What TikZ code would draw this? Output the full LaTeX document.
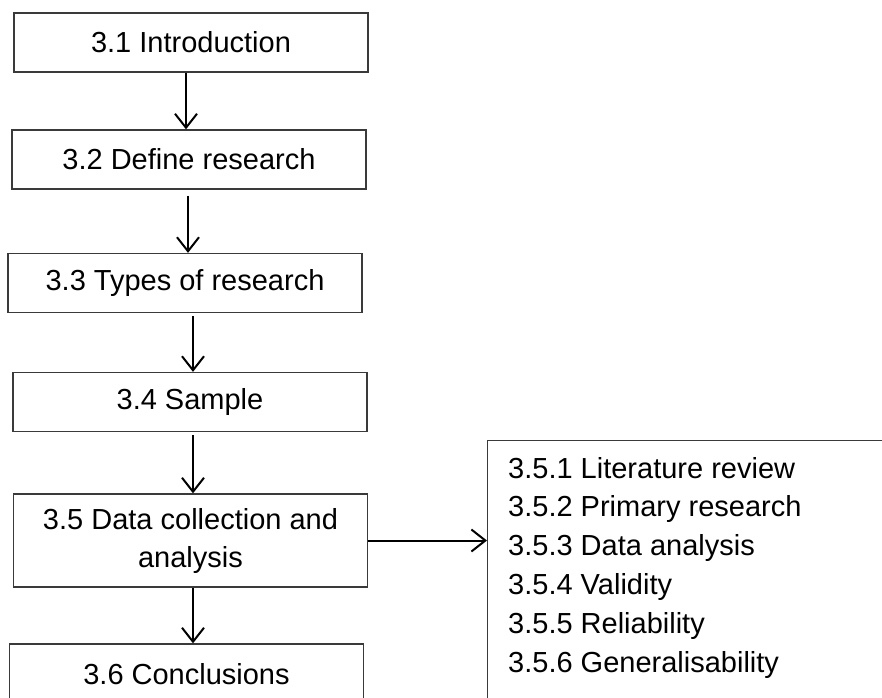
\documentclass[tikz,border=0pt]{standalone}
\usepackage{fontspec}
\setmainfont{Liberation Sans}
\usetikzlibrary{arrows.meta}
\definecolor{edge}{HTML}{3A3A3A}
\tikzset{
  stagebox/.style={draw=edge, line width=1.3pt, rectangle, minimum width=354pt,
    minimum height=59pt, inner sep=0pt, align=center,
    font=\fontsize{29}{38}\selectfont},
  listbox/.style={draw=edge, line width=1.3pt, rectangle, inner sep=0pt},
  listtext/.style={inner sep=0pt, align=left, font=\fontsize{29}{38.8}\selectfont},
  conn/.style={line width=2pt, -{Straight Barb[length=14pt,width=22pt,line width=2pt]}},
}
\begin{document}
\begin{tikzpicture}[x=1pt,y=-1pt]
\useasboundingbox (0,0) rectangle (882,697);
\clip (0,0) rectangle (882,697);
\fill[white] (0,0) rectangle (882,697);

% main chain of stages
\node[stagebox] (b1) at (191,42.5) {3.1 Introduction};
\node[stagebox] (b2) at (189,159.5) {3.2 Define research};
\node[stagebox] (b3) at (185,283) {3.3 Types of research};
\node[stagebox] (b4) at (190,402) {3.4 Sample};
\node[stagebox, minimum height=93pt] (b5) at (190.5,540.5) {3.5 Data collection and\\analysis};
\node[stagebox, minimum height=60pt] (b6) at (186.5,674) {3.6 Conclusions};

% sub-sections of 3.5 (box runs off the page edges)
\node[listbox, anchor=north west, minimum width=420pt, minimum height=300pt] (sub) at (487,440) {};
\node[listtext, anchor=base west] (subtext) at (508,672) {3.5.1 Literature review\\3.5.2 Primary research\\3.5.3 Data analysis\\3.5.4 Validity\\3.5.5 Reliability\\3.5.6 Generalisability};

% connectors
\draw[conn] (b1.south -| 186,0) -- (b2.north -| 186,0);
\draw[conn] ([yshift=-6pt]b2.south -| 188,0) -- (b3.north -| 188,0);
\draw[conn] ([yshift=-3pt]b3.south -| 193,0) -- (b4.north -| 193,0);
\draw[conn] ([yshift=-3pt]b4.south -| 193,0) -- (b5.north -| 193,0);
\draw[conn] (b5.south -| 193,0) -- (b6.north -| 193,0);
\draw[conn] (b5.east) -- (b5.east -| sub.west);
\end{tikzpicture}
\end{document}
